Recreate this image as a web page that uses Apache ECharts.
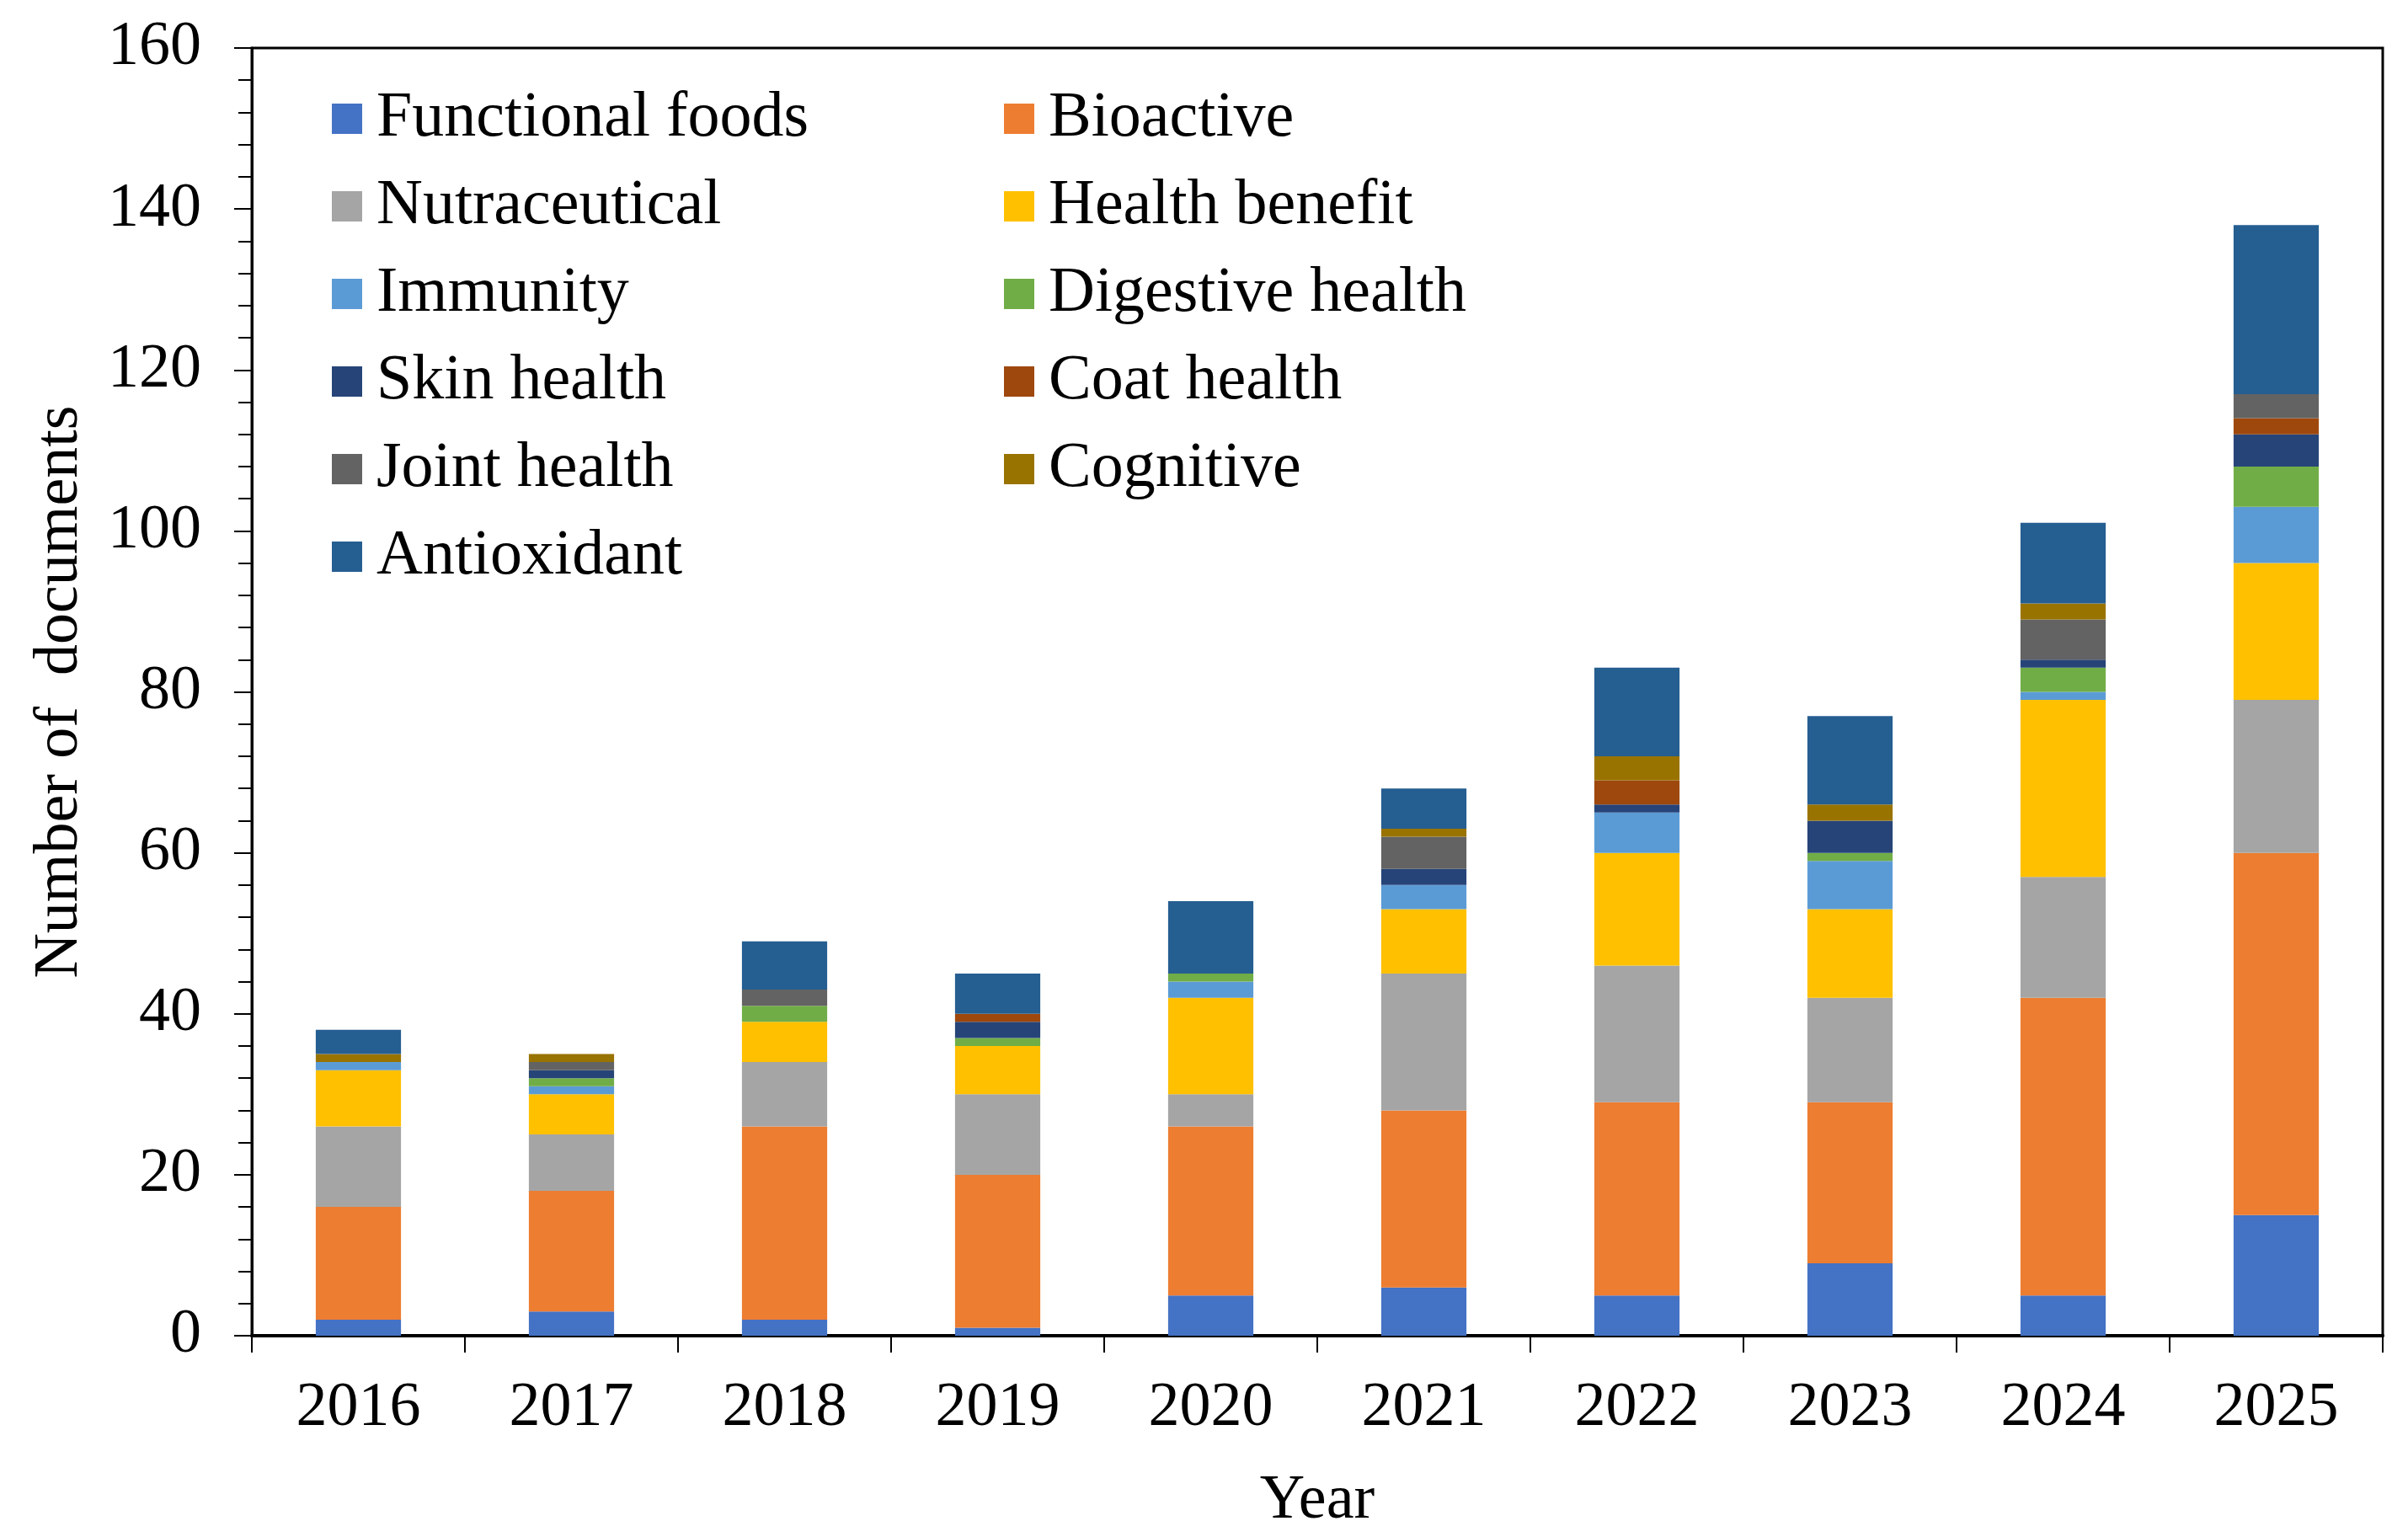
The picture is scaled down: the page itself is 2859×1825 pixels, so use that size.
<!DOCTYPE html>
<html>
<head>
<meta charset="utf-8">
<script src="https://cdn.jsdelivr.net/npm/echarts@6/dist/echarts.min.js"></script>
<style>
html,body{margin:0;padding:0;background:#fff;}
#chart{width:2859px;height:1825px;}
</style>
</head>
<body>
<div id="chart"></div>
<script>
const years = ['2016','2017','2018','2019','2020','2021','2022','2023','2024','2025'];
const functionalFoods = [2, 3, 2, 1, 5, 6, 5, 9, 5, 15];
const bioactive       = [14, 15, 24, 19, 21, 22, 24, 20, 37, 45];
const nutraceutical   = [10, 7, 8, 10, 4, 17, 17, 13, 15, 19];
const healthBenefit   = [7, 5, 5, 6, 12, 8, 14, 11, 22, 17];
const immunity        = [1, 1, 0, 0, 2, 3, 5, 6, 1, 7];
const digestiveHealth = [0, 1, 2, 1, 1, 0, 0, 1, 3, 5];
const skinHealth      = [0, 1, 0, 2, 0, 2, 1, 4, 1, 4];
const coatHealth      = [0, 0, 0, 1, 0, 0, 3, 0, 0, 2];
const jointHealth     = [0, 1, 2, 0, 0, 4, 0, 0, 5, 3];
const cognitive       = [1, 1, 0, 0, 0, 1, 3, 2, 2, 0];
const antioxidant     = [3, 0, 6, 5, 9, 5, 11, 11, 10, 21];
const yTicks = [0, 20, 40, 60, 80, 100, 120, 140, 160];

const seriesDefs = [
  ['Functional foods', functionalFoods, '#4472C4'],
  ['Bioactive', bioactive, '#ED7D31'],
  ['Nutraceutical', nutraceutical, '#A5A5A5'],
  ['Health benefit', healthBenefit, '#FFC000'],
  ['Immunity', immunity, '#5B9BD5'],
  ['Digestive health', digestiveHealth, '#70AD47'],
  ['Skin health', skinHealth, '#264478'],
  ['Coat health', coatHealth, '#9E480E'],
  ['Joint health', jointHealth, '#636363'],
  ['Cognitive', cognitive, '#997300'],
  ['Antioxidant', antioxidant, '#255E91']
];

const font = "'Liberation Serif', 'Times New Roman', serif";
const chart = echarts.init(document.getElementById('chart'), null, {renderer: 'canvas'});

const legendCommon = {
  orient: 'vertical',
  icon: 'rect',
  itemWidth: 36,
  itemHeight: 36,
  itemGap: 24,
  top: 96,
  textStyle: {fontFamily: font, fontSize: 76, color: '#000', lineHeight: 80, padding: [0, 0, 0, 12]}
};

chart.setOption({
  animation: false,
  backgroundColor: '#fff',
  textStyle: {fontFamily: font, color: '#000'},
  color: seriesDefs.map(s => s[2]),
  legend: [
    Object.assign({}, legendCommon, {left: 389, data: ['Functional foods','Nutraceutical','Immunity','Skin health','Joint health','Antioxidant']}),
    Object.assign({}, legendCommon, {left: 1187, data: ['Bioactive','Health benefit','Digestive health','Coat health','Cognitive']})
  ],
  grid: {left: 299, right: 30, top: 57, bottom: 238, show: true, borderColor: '#000', borderWidth: 3, containLabel: false},
  xAxis: {
    type: 'category',
    data: years,
    name: 'Year',
    nameLocation: 'middle',
    nameGap: 160,
    nameTextStyle: {fontFamily: font, fontSize: 74, color: '#000'},
    axisLine: {lineStyle: {color: '#000', width: 4}},
    axisTick: {show: true, inside: false, length: 20, lineStyle: {color: '#000', width: 2}},
    axisLabel: {fontFamily: font, fontSize: 74, color: '#000', margin: 50}
  },
  yAxis: {
    type: 'value',
    min: yTicks[0],
    max: yTicks[yTicks.length - 1],
    interval: 20,
    name: 'Number of  documents',
    nameLocation: 'middle',
    nameGap: 190,
    nameTextStyle: {fontFamily: font, fontSize: 74, color: '#000'},
    axisLine: {show: true, lineStyle: {color: '#000', width: 3}},
    axisTick: {show: true, inside: false, length: 21, lineStyle: {color: '#000', width: 2}},
    minorTick: {show: true, splitNumber: 5, length: 16, lineStyle: {color: '#000', width: 2}},
    splitLine: {show: false},
    axisLabel: {fontFamily: font, fontSize: 74, color: '#000', margin: 60}
  },
  series: seriesDefs.map(s => ({
    name: s[0],
    type: 'bar',
    stack: 'total',
    data: s[1],
    barWidth: '40%',
    itemStyle: {color: s[2]}
  }))
});
</script>
</body>
</html>
